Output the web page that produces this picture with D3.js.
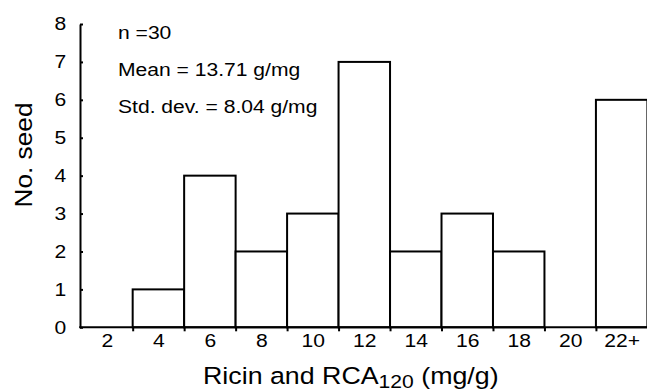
<!DOCTYPE html>
<html><head><meta charset="utf-8">
<script src="https://cdn.jsdelivr.net/npm/d3@7"></script>
<style>body{margin:0;background:#fff}svg{display:block}text{font-family:"Liberation Sans",Arial,sans-serif;fill:#000}</style>
</head><body>
<script>
const binCenters = [2,4,6,8,10,12,14,16,18,20,22];
const binLabels = ["2","4","6","8","10","12","14","16","18","20","22+"];
const counts = [0,1,4,2,3,7,2,3,2,0,6];
const yTicks = [0,1,2,3,4,5,6,7,8];
const statLines = ["n =30","Mean = 13.71 g/mg","Std. dev. = 8.04 g/mg"];
const binWidth = 2;

const W=647,H=392, SX=1.14, FS=18.5;
const svg=d3.select("body").append("svg").attr("width",W).attr("height",H);
const x=d3.scaleLinear().domain([1,23]).range([81.2,647.4]);
const y=d3.scaleLinear().domain([0,8]).range([327.3,24]);

// bars
svg.append("g").selectAll("rect").data(binCenters.map((c,i)=>({c,v:counts[i]})).filter(d=>d.v>0))
 .join("rect")
 .attr("x",d=>x(d.c-binWidth/2)).attr("width",d=>x(d.c+binWidth/2)-x(d.c-binWidth/2))
 .attr("y",d=>y(d.v)).attr("height",d=>y(0)-y(d.v))
 .attr("fill","#fff").attr("stroke","#000").attr("stroke-width",2);

// x edge ticks
const edges=d3.range(3,22,2);
const gx=svg.append("g").attr("transform",`translate(0,${y(0)})`)
 .call(d3.axisBottom(x).tickValues(edges).tickSizeInner(4).tickSizeOuter(0).tickFormat(""));
gx.select(".domain").attr("stroke-width",2).attr("d",`M${x(1)-2},0H${x(23)}`);
gx.selectAll(".tick line").attr("stroke-width",2);
// x labels
const gxl=svg.append("g").attr("transform",`translate(0,${y(0)})`)
 .call(d3.axisBottom(x).tickValues(binCenters).tickSize(0).tickPadding(6.3).tickFormat((d,i)=>binLabels[i]));
gxl.select(".domain").remove();
gxl.selectAll("text").attr("font-size",FS).attr("font-family",'"Liberation Sans",Arial,sans-serif')
 .attr("transform",`scale(${SX},1)`);

// y axis
const gy=svg.append("g").attr("transform",`translate(80,0)`)
 .call(d3.axisLeft(y).tickValues(yTicks).tickSizeInner(-3).tickSizeOuter(0).tickPadding(12));
gy.select(".domain").attr("stroke-width",2);
gy.selectAll(".tick line").attr("stroke-width",2);
gy.selectAll("text").attr("font-size",FS).attr("font-family",'"Liberation Sans",Arial,sans-serif')
 .attr("transform",`scale(${SX},1)`);

// stats text
statLines.forEach((s,i)=>{
  svg.append("text").attr("transform",`translate(118,${38.5+i*37})scale(${SX},1)`)
   .attr("font-size",FS).text(s);
});

// axis titles
const xt=svg.append("text").attr("transform",`translate(203,384)scale(${SX},1)`).attr("font-size",23.5);
xt.append("tspan").text("Ricin and RCA");
xt.append("tspan").attr("font-size",18.5).attr("dy",4).text("120");
xt.append("tspan").attr("dy",-4).text(" (mg/g)");

svg.append("text").attr("transform",`translate(32,155)rotate(-90)scale(${SX},1)`)
 .attr("text-anchor","middle").attr("font-size",23).text("No. seed");
</script>
</body></html>
